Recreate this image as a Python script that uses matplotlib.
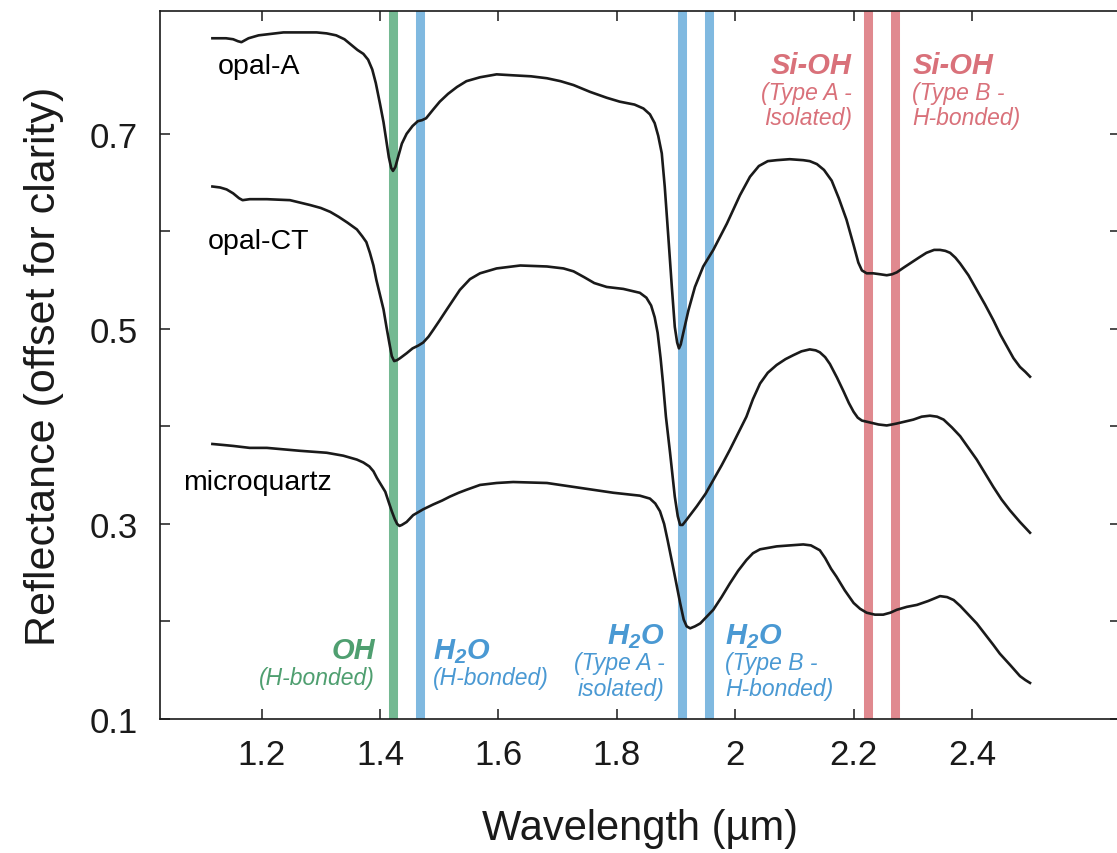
import numpy as np
import matplotlib.pyplot as plt

plt.rcParams['font.family'] = ['Liberation Sans', 'DejaVu Sans']
plt.rcParams['mathtext.fontset'] = 'custom'
plt.rcParams['mathtext.rm'] = 'Liberation Sans:bold:italic'
plt.rcParams['mathtext.it'] = 'Liberation Sans:bold:italic'
plt.rcParams['mathtext.bf'] = 'Liberation Sans:bold:italic'

# spectra: wavelength (um) and offset reflectance
opal_a_wl = [1.117, 1.140, 1.152, 1.160, 1.166, 1.172, 1.178, 1.195, 1.209, 1.237,
             1.265, 1.293, 1.310, 1.326, 1.340, 1.352, 1.362, 1.372, 1.380, 1.387,
             1.393, 1.400, 1.406, 1.411, 1.415, 1.419, 1.422, 1.426, 1.431, 1.437,
             1.445, 1.455, 1.464, 1.471, 1.478, 1.490, 1.501, 1.515, 1.530, 1.546,
             1.569, 1.597, 1.625, 1.655, 1.682, 1.705, 1.727, 1.755, 1.783, 1.805,
             1.830, 1.845, 1.856, 1.864, 1.870, 1.876, 1.881, 1.887, 1.893, 1.898,
             1.902, 1.905, 1.908, 1.912, 1.921, 1.932, 1.946, 1.963, 1.986, 2.008,
             2.025, 2.040, 2.055, 2.070, 2.092, 2.115, 2.126, 2.138, 2.150, 2.163,
             2.175, 2.188, 2.200, 2.208, 2.214, 2.222, 2.233, 2.245, 2.256, 2.265,
             2.273, 2.285, 2.295, 2.310, 2.323, 2.336, 2.346, 2.355, 2.363, 2.372,
             2.380, 2.394, 2.408, 2.422, 2.436, 2.448, 2.459, 2.470, 2.481, 2.490,
             2.498]
opal_a_refl = [0.798, 0.798, 0.797, 0.795, 0.794, 0.796, 0.798, 0.801, 0.802, 0.804,
               0.804, 0.804, 0.803, 0.801, 0.797, 0.791, 0.786, 0.782, 0.776, 0.766,
               0.752, 0.731, 0.712, 0.692, 0.676, 0.665, 0.662, 0.666, 0.677, 0.690,
               0.700, 0.708, 0.713, 0.714, 0.716, 0.725, 0.733, 0.741, 0.748, 0.754,
               0.758, 0.761, 0.760, 0.759, 0.757, 0.754, 0.750, 0.743, 0.737, 0.733,
               0.730, 0.726, 0.720, 0.711, 0.698, 0.680, 0.646, 0.595, 0.543, 0.502,
               0.486, 0.480, 0.484, 0.495, 0.519, 0.543, 0.564, 0.581, 0.608, 0.637,
               0.656, 0.667, 0.672, 0.673, 0.674, 0.673, 0.672, 0.669, 0.663, 0.652,
               0.634, 0.612, 0.586, 0.568, 0.560, 0.557, 0.557, 0.556, 0.555, 0.556,
               0.558, 0.563, 0.567, 0.573, 0.578, 0.581, 0.581, 0.580, 0.578, 0.573,
               0.567, 0.555, 0.540, 0.525, 0.509, 0.494, 0.482, 0.470, 0.461, 0.456,
               0.451]

opal_ct_wl = [1.117, 1.130, 1.141, 1.152, 1.162, 1.168, 1.180, 1.209, 1.248, 1.282,
              1.300, 1.316, 1.330, 1.345, 1.361, 1.370, 1.377, 1.383, 1.389, 1.394,
              1.400, 1.406, 1.411, 1.416, 1.420, 1.424, 1.429, 1.434, 1.445, 1.455,
              1.465, 1.473, 1.482, 1.490, 1.500, 1.513, 1.524, 1.535, 1.552, 1.569,
              1.597, 1.637, 1.682, 1.710, 1.727, 1.745, 1.762, 1.783, 1.811, 1.839,
              1.850, 1.858, 1.864, 1.869, 1.874, 1.878, 1.883, 1.890, 1.898, 1.903,
              1.907, 1.911, 1.915, 1.925, 1.935, 1.950, 1.963, 1.977, 1.991, 2.005,
              2.019, 2.030, 2.042, 2.055, 2.070, 2.085, 2.098, 2.112, 2.126, 2.136,
              2.143, 2.152, 2.160, 2.172, 2.183, 2.192, 2.200, 2.207, 2.214, 2.228,
              2.242, 2.256, 2.265, 2.273, 2.287, 2.301, 2.315, 2.329, 2.341, 2.352,
              2.366, 2.380, 2.394, 2.408, 2.422, 2.436, 2.450, 2.464, 2.481, 2.498]
opal_ct_refl = [0.646, 0.645, 0.643, 0.639, 0.634, 0.632, 0.633, 0.633, 0.632, 0.627,
                0.624, 0.620, 0.615, 0.609, 0.602, 0.595, 0.589, 0.578, 0.565, 0.550,
                0.535, 0.520, 0.502, 0.485, 0.472, 0.467, 0.468, 0.470, 0.475, 0.480,
                0.483, 0.486, 0.492, 0.499, 0.508, 0.520, 0.530, 0.540, 0.551, 0.557,
                0.562, 0.565, 0.564, 0.562, 0.559, 0.553, 0.547, 0.543, 0.541, 0.537,
                0.532, 0.524, 0.512, 0.496, 0.470, 0.445, 0.410, 0.373, 0.328, 0.308,
                0.299, 0.299, 0.302, 0.310, 0.318, 0.331, 0.345, 0.360, 0.376, 0.393,
                0.410, 0.428, 0.444, 0.455, 0.463, 0.469, 0.473, 0.477, 0.479, 0.478,
                0.476, 0.471, 0.464, 0.450, 0.436, 0.424, 0.415, 0.409, 0.406, 0.404,
                0.402, 0.401, 0.402, 0.403, 0.405, 0.407, 0.410, 0.411, 0.410, 0.407,
                0.399, 0.390, 0.378, 0.366, 0.352, 0.338, 0.325, 0.314, 0.302, 0.291]

microquartz_wl = [1.117, 1.135, 1.152, 1.180, 1.209, 1.265, 1.310, 1.338, 1.361, 1.372,
                  1.382, 1.389, 1.395, 1.402, 1.409, 1.415, 1.420, 1.425, 1.429, 1.433,
                  1.437, 1.445, 1.456, 1.473, 1.490, 1.505, 1.518, 1.533, 1.546, 1.569,
                  1.597, 1.625, 1.682, 1.738, 1.794, 1.839, 1.856, 1.865, 1.873, 1.880,
                  1.886, 1.896, 1.907, 1.913, 1.918, 1.924, 1.932, 1.941, 1.952, 1.963,
                  1.977, 1.991, 2.005, 2.019, 2.030, 2.042, 2.070, 2.092, 2.115, 2.128,
                  2.143, 2.152, 2.162, 2.171, 2.185, 2.200, 2.211, 2.222, 2.236, 2.250,
                  2.262, 2.273, 2.290, 2.307, 2.326, 2.346, 2.358, 2.369, 2.380, 2.394,
                  2.408, 2.422, 2.436, 2.447, 2.465, 2.481, 2.490, 2.498]
microquartz_refl = [0.382, 0.381, 0.380, 0.378, 0.378, 0.375, 0.373, 0.370, 0.366, 0.363,
                    0.359, 0.354, 0.347, 0.340, 0.333, 0.322, 0.313, 0.305, 0.300, 0.298,
                    0.299, 0.302, 0.309, 0.315, 0.320, 0.324, 0.328, 0.332, 0.335, 0.340,
                    0.342, 0.343, 0.342, 0.337, 0.332, 0.329, 0.326, 0.321, 0.313, 0.300,
                    0.283, 0.253, 0.219, 0.202, 0.195, 0.193, 0.195, 0.198, 0.205, 0.212,
                    0.225, 0.239, 0.252, 0.263, 0.270, 0.274, 0.277, 0.278, 0.279, 0.278,
                    0.273, 0.265, 0.254, 0.246, 0.232, 0.219, 0.213, 0.209, 0.207, 0.207,
                    0.209, 0.212, 0.215, 0.217, 0.221, 0.226, 0.225, 0.222, 0.216, 0.207,
                    0.198, 0.187, 0.176, 0.167, 0.155, 0.144, 0.140, 0.137]

spectra = [(opal_a_wl, opal_a_refl), (opal_ct_wl, opal_ct_refl),
           (microquartz_wl, microquartz_refl)]
sample_names = ['opal-A', 'opal-CT', 'microquartz']

# absorption bands
band_wl = [1.422, 1.468, 1.910, 1.956, 2.224, 2.270]
band_colors = ['#74b992', '#80b9e0', '#80b9e0', '#80b9e0', '#e0898f', '#e0898f']

green_txt = '#4f9f70'
blue_txt = '#4a99d3'
red_txt = '#d9717a'

fig = plt.figure(figsize=(11.17, 8.54), dpi=100)
ax = fig.add_axes([0.1432, 0.1569, 0.8595, 0.8291])

for wl, col in zip(band_wl, band_colors):
    ax.axvline(wl, color=col, lw=6.5, zorder=1)

for wl, refl in spectra:
    ax.plot(wl, refl, color='#1a1a1a', lw=1.9, zorder=3, solid_joinstyle='round')

# sample names
ax.text(1.1264, 0.7626, sample_names[0], fontsize=20.5, ha='left', va='baseline')
ax.text(1.1095, 0.5831, sample_names[1], fontsize=20.5, ha='left', va='baseline')
ax.text(1.0672, 0.3359, sample_names[2], fontsize=20.5, ha='left', va='baseline')


def band_label(x, y, title, sub, color, ha):
    ax.text(x, y, title, color=color, fontsize=21, fontweight='bold',
            fontstyle='italic', ha=ha, va='baseline', zorder=4)
    for i, line in enumerate(sub):
        ax.text(x, y - 0.027 - 0.026 * i, line, color=color, fontsize=16.5,
                fontstyle='italic', ha=ha, va='baseline', zorder=4)


band_label(1.392, 0.1626, 'OH', ['(H-bonded)'], green_txt, 'right')
band_label(1.490, 0.1626, r'H$_2$O', ['(H-bonded)'], blue_txt, 'left')
band_label(1.881, 0.178, r'H$_2$O', ['(Type A -', 'isolated)'], blue_txt, 'right')
band_label(1.983, 0.178, r'H$_2$O', ['(Type B -', 'H-bonded)'], blue_txt, 'left')
band_label(2.197, 0.7626, 'Si-OH', ['(Type A -', 'Isolated)'], red_txt, 'right')
band_label(2.299, 0.7626, 'Si-OH', ['(Type B -', 'H-bonded)'], red_txt, 'left')

ax.set_xlim(1.0284, 2.65)
ax.set_ylim(0.1, 0.826)

ax.set_xticks([1.2, 1.4, 1.6, 1.8, 2.0, 2.2, 2.4])
ax.set_xticklabels(['1.2', '1.4', '1.6', '1.8', '2', '2.2', '2.4'])
ax.set_yticks([0.1, 0.2, 0.3, 0.4, 0.5, 0.6, 0.7])
ax.set_yticklabels(['0.1', '', '0.3', '', '0.5', '', '0.7'])

ax.tick_params(axis='x', direction='in', length=7, width=1.1, labelsize=25,
               pad=14, top=True, colors='#1a1a1a')
ax.tick_params(axis='y', direction='in', length=7, width=1.1, labelsize=25,
               pad=16, right=True, colors='#1a1a1a')
for sp in ax.spines.values():
    sp.set_linewidth(1.2)
    sp.set_color('#1a1a1a')

ax.set_xlabel('Wavelength (µm)', fontsize=30, labelpad=26, color='#1a1a1a')
ax.set_ylabel('Reflectance (offset for clarity)', fontsize=31, labelpad=18,
              color='#1a1a1a')

fig.savefig('out.png', dpi=100)
